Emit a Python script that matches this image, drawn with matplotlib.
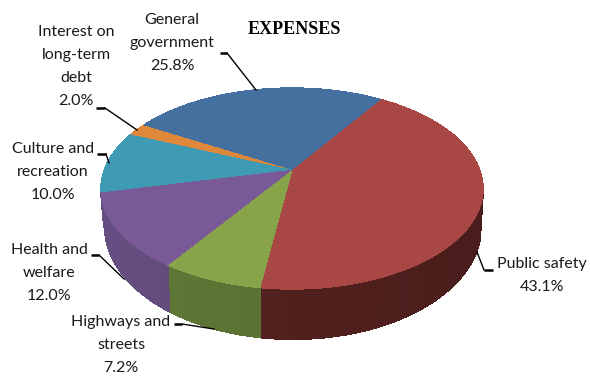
import numpy as np
import matplotlib
matplotlib.use('Agg')
import matplotlib.pyplot as plt
from matplotlib.patches import Polygon

# clockwise, starting from the back right of the pie
labels = ['Public safety', 'Highways and\nstreets', 'Health and\nwelfare',
          'Culture and\nrecreation', 'Interest on\nlong-term\ndebt', 'General\ngovernment']
values = [43.1, 7.2, 12.0, 10.0, 2.0, 25.8]
top_colors = ['#a94744', '#88a44a', '#795a96', '#3f9ab4', '#e0883a', '#44709f']
side_colors = ['#53211f', '#5a7233', '#5e4978', '#2d7186', '#a5642a', '#32527a']

label_pos = [(542, 275.5), (121, 345), (49, 273), (53, 172), (76, 66.5), (172, 43)]
leaders = [
    [(493, 270), (484, 270), (477, 252)],
    [(174, 324), (182, 324), (214, 329)],
    [(91, 255), (99, 255), (124, 279)],
    [(97, 154), (106, 154), (109, 163)],
    [(96, 108), (105, 108), (137, 130)],
    [(220, 53), (227, 53), (256, 90)],
]

# pie tilted in perspective, so the centre sits above the middle of the ellipse
cx, cy = 292, 169
a, b, p = 187.4, 96.7, 0.194
start = 33
# lower rim of the wall
base_x, base_y, base_rx, base_ry = 293, 227, 188, 112


def project(theta):
    u, v = np.sin(theta), np.cos(theta)
    w = 1 + p * v
    return cx + a * u / w, cy - b * v / w


def base_point(x):
    bx = cx + (x - cx) * 0.985
    t = np.clip((bx - base_x) / base_rx, -1, 1)
    return bx, base_y + base_ry * np.sqrt(1 - t ** 2)


fig = plt.figure(figsize=(5.9, 3.76), dpi=100)
ax = fig.add_axes([0, 0, 1, 1])
ax.set_xlim(0, 590)
ax.set_ylim(376, 0)
ax.axis('off')

edges = start + np.cumsum([0] + values) / sum(values) * 360

# side wall first, only the front half shows
for i in range(len(values)):
    th = np.radians(np.arange(edges[i], edges[i + 1] + 1, 1))
    x, y = project(th)
    for j in range(len(th) - 1):
        if y[j] < 192 or y[j + 1] < 192:
            continue
        shade = 1.08 - 0.2 * (x[j] - 100) / 385
        col = np.clip(np.array(matplotlib.colors.to_rgb(side_colors[i])) * shade, 0, 1)
        x0, y0 = base_point(x[j])
        x1, y1 = base_point(x[j + 1])
        quad = [(x[j], y[j]), (x[j + 1], y[j + 1]), (x1, y1), (x0, y0)]
        ax.add_patch(Polygon(quad, closed=True, facecolor=col, edgecolor=col,
                             lw=0.8, antialiased=False))

for i in range(len(values)):
    th = np.radians(np.linspace(edges[i], edges[i + 1], 120))
    x, y = project(th)
    pts = [(cx, cy)] + list(zip(x, y))
    ax.add_patch(Polygon(pts, closed=True, facecolor=top_colors[i],
                         edgecolor=top_colors[i], lw=0.3, antialiased=False))

for i in range(len(values)):
    ax.text(label_pos[i][0], label_pos[i][1], f'{labels[i]}\n{values[i]:.1f}%',
            family='Lato', fontsize=11.5, color='#1a1a1a', ha='center', va='center',
            linespacing=1.83)
    pts = np.array(leaders[i])
    ax.plot(pts[:2, 0], pts[:2, 1], color='black', lw=1.8, solid_capstyle='butt')
    ax.plot(pts[1:, 0], pts[1:, 1], color='black', lw=1.0)

ax.text(294, 29, 'EXPENSES', family='Liberation Serif', fontweight='bold',
        fontsize=13, color='black', ha='center', va='center')

fig.savefig('out.png', dpi=100)
